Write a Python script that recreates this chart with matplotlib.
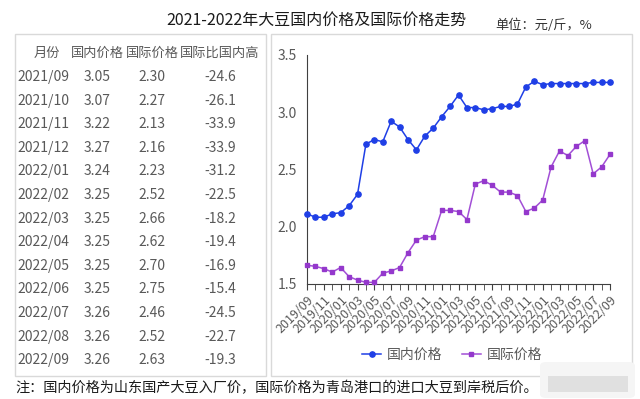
import matplotlib
matplotlib.use("Agg")
import matplotlib.pyplot as plt
from matplotlib.patches import Rectangle, FancyBboxPatch

plt.rcParams["font.family"] = ["Noto Sans CJK SC", "DejaVu Sans"]

W, H = 640, 399

# monthly prices 2019/09 .. 2022/09 (yuan / jin)
domestic = [2.11, 2.08, 2.08, 2.11, 2.12, 2.18, 2.28, 2.72, 2.76, 2.74,
            2.92, 2.87, 2.76, 2.67, 2.79, 2.86, 2.96, 3.05, 3.15, 3.04,
            3.04, 3.02, 3.03, 3.05,
            3.05, 3.07, 3.22, 3.27, 3.24, 3.25, 3.25, 3.25, 3.25, 3.25,
            3.26, 3.26, 3.26]
international = [1.66, 1.65, 1.63, 1.60, 1.64, 1.56, 1.53, 1.51, 1.51, 1.59,
                 1.61, 1.64, 1.77, 1.88, 1.91, 1.91, 2.14, 2.14, 2.13, 2.06,
                 2.37, 2.40, 2.36, 2.30,
                 2.30, 2.27, 2.13, 2.16, 2.23, 2.52, 2.66, 2.62, 2.70, 2.75,
                 2.46, 2.52, 2.63]

xtick_labels = ["2019/09", "2019/11", "2020/01", "2020/03", "2020/05",
                "2020/07", "2020/09", "2020/11", "2021/01", "2021/03",
                "2021/05", "2021/07", "2021/09", "2021/11", "2022/01",
                "2022/03", "2022/05", "2022/07", "2022/09"]

table_header = ["月份", "国内价格", "国际价格", "国际比国内高"]
table_months = ["2021/09", "2021/10", "2021/11", "2021/12", "2022/01",
                "2022/02", "2022/03", "2022/04", "2022/05", "2022/06",
                "2022/07", "2022/08", "2022/09"]
table_domestic = [3.05, 3.07, 3.22, 3.27, 3.24, 3.25, 3.25, 3.25, 3.25,
                  3.25, 3.26, 3.26, 3.26]
table_international = [2.30, 2.27, 2.13, 2.16, 2.23, 2.52, 2.66, 2.62, 2.70,
                       2.75, 2.46, 2.52, 2.63]
table_diff = [-24.6, -26.1, -33.9, -33.9, -31.2, -22.5, -18.2, -19.4, -16.9,
              -15.4, -24.5, -22.7, -19.3]

BLUE = "#1f3fe6"
PURPLE = "#a24fd6"
PURPLE_DARK = "#9438cc"
GRAY = "#595959"


def fx(px):
    return px / W


def fy(py):
    return 1 - py / H


def main():
    fig = plt.figure(figsize=(W / 100, H / 100), dpi=100)

    # panel frames
    for x0, x1 in [(15, 266), (271, 632)]:
        fig.add_artist(Rectangle((fx(x0), fy(376)), fx(x1 - x0), (376 - 34) / H,
                                 transform=fig.transFigure, fill=False,
                                 edgecolor="#d9d9d9", linewidth=1))

    # title and unit
    fig.text(fx(316), fy(20), "2021-2022年大豆国内价格及国际价格走势",
             ha="center", va="center", fontsize=11.5, color="#1a1a1a")
    fig.text(fx(495), fy(25), "单位：元/斤，%", ha="left", va="center",
             fontsize=9.5, color="#333333")

    # table
    col_x = [47, 97, 152, 220]
    for i in range(4):
        fig.text(fx(col_x[i]), fy(53), table_header[i], ha="center",
                 va="center", fontsize=9.5, color=GRAY)
    for i, m in enumerate(table_months):
        y = 77 + 23.6 * i
        fig.text(fx(17), fy(y), m, ha="left", va="center", fontsize=10,
                 color=GRAY)
        fig.text(fx(col_x[1]), fy(y), f"{table_domestic[i]:.2f}", ha="center",
                 va="center", fontsize=10, color=GRAY)
        fig.text(fx(col_x[2]), fy(y), f"{table_international[i]:.2f}",
                 ha="center", va="center", fontsize=10, color=GRAY)
        fig.text(fx(col_x[3]), fy(y), f"{table_diff[i]:.1f}", ha="center",
                 va="center", fontsize=10, color=GRAY)

    # line chart
    ax = fig.add_axes([fx(307), fy(283.5), fx(610 - 307), (283.5 - 55) / H])
    x = list(range(len(domestic)))
    ax.plot(x, domestic, color=BLUE, linewidth=1.1, marker="o",
            markersize=3.8, markerfacecolor=BLUE, markeredgecolor=BLUE,
            label="国内价格", clip_on=False, zorder=3)
    ax.plot(x, international, color=PURPLE, linewidth=1.1, marker="s",
            markersize=3.4, markerfacecolor=PURPLE_DARK,
            markeredgecolor=PURPLE_DARK, label="国际价格", clip_on=False,
            zorder=3)

    ax.set_xlim(0, len(domestic) - 1)
    ax.set_ylim(1.5, 3.5)
    ax.set_yticks([1.5, 2.0, 2.5, 3.0, 3.5])
    ax.set_yticklabels(["1.5", "2.0", "2.5", "3.0", "3.5"])
    ax.set_xticks(x, minor=True)
    ax.set_xticks(range(0, len(domestic), 2))
    ax.set_xticklabels(xtick_labels, rotation=45, ha="right",
                       rotation_mode="anchor", fontsize=9, color=GRAY)
    ax.tick_params(axis="y", length=0, pad=7, labelsize=10, labelcolor=GRAY)
    ax.tick_params(axis="x", which="both", direction="out", length=4,
                   color="#404040", pad=3)
    for side in ["top", "right"]:
        ax.spines[side].set_visible(False)
    ax.spines["left"].set_color("#404040")
    ax.spines["bottom"].set_color("#404040")
    ax.patch.set_alpha(0)

    ax.legend(loc="center", bbox_to_anchor=(fx(452), fy(355)),
              bbox_transform=fig.transFigure, ncol=2, frameon=False,
              fontsize=10, handlelength=1.4, handletextpad=0.4,
              columnspacing=1.4, labelcolor=GRAY)

    # footnote
    fig.text(fx(15), fy(388),
             "注：国内价格为山东国产大豆入厂价，国际价格为青岛港口的进口大豆到岸税后价。",
             ha="left", va="center", fontsize=10.2, fontweight="medium",
             color="#1a1a1a")

    # blurred watermark patch at the bottom right
    fig.add_artist(FancyBboxPatch((fx(540), fy(398)), fx(95), 36 / H,
                                  boxstyle="round,pad=0,rounding_size=0.01",
                                  transform=fig.transFigure,
                                  facecolor="#f5f5f5", edgecolor="none"))
    fig.add_artist(Rectangle((fx(548), fy(392)), fx(80), 16 / H,
                             transform=fig.transFigure,
                             facecolor="#e0e0e0", edgecolor="none"))

    fig.savefig("out.png", dpi=100)


if __name__ == "__main__":
    main()
